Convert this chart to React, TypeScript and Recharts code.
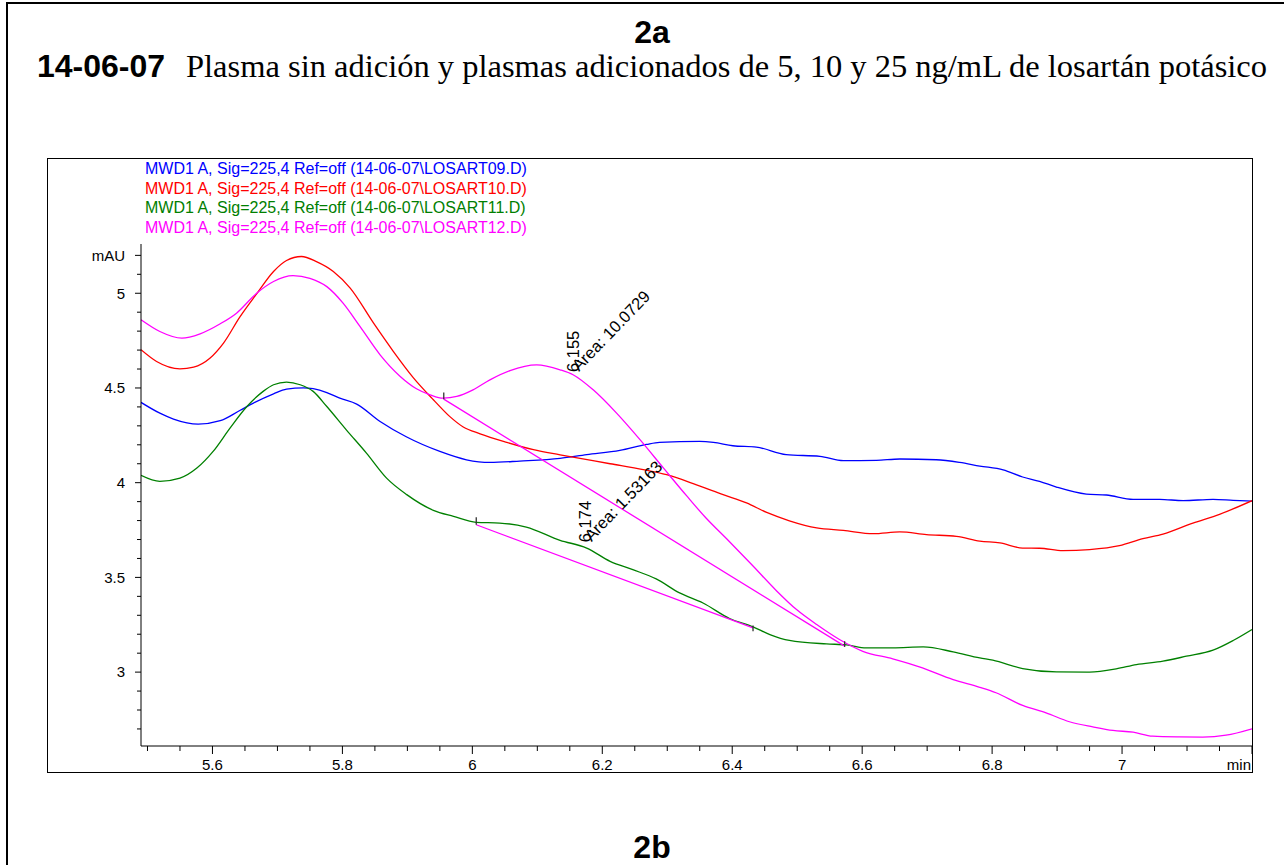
import React from 'react';
import { LineChart, Line, XAxis, YAxis, Legend, ReferenceLine, ReferenceDot } from 'recharts';

// retention time (min) vs absorbance (mAU)
const losart09 = [
  [5.49, 4.424], [5.519, 4.367], [5.54, 4.336], [5.578, 4.309], [5.612, 4.327], [5.642, 4.381],
  [5.663, 4.42], [5.694, 4.469], [5.714, 4.494], [5.74, 4.501], [5.755, 4.496], [5.776, 4.476],
  [5.796, 4.446], [5.822, 4.415], [5.858, 4.323], [5.899, 4.241], [5.95, 4.165], [5.991, 4.121],
  [6.027, 4.107], [6.073, 4.114], [6.135, 4.128], [6.176, 4.148], [6.227, 4.17], [6.268, 4.202],
  [6.288, 4.213], [6.35, 4.218], [6.371, 4.213], [6.401, 4.195], [6.437, 4.188], [6.483, 4.148],
  [6.535, 4.139], [6.571, 4.116], [6.622, 4.118], [6.658, 4.125], [6.714, 4.121], [6.75, 4.107],
  [6.781, 4.088], [6.817, 4.068], [6.847, 4.03], [6.873, 4.007], [6.899, 3.977], [6.945, 3.94],
  [6.976, 3.935], [7.017, 3.912], [7.058, 3.912], [7.094, 3.905], [7.14, 3.912], [7.171, 3.907],
  [7.2, 3.903],
];

const losart10 = [
  [5.49, 4.702], [5.514, 4.64], [5.55, 4.601], [5.571, 4.61], [5.596, 4.657], [5.617, 4.737],
  [5.642, 4.874], [5.668, 4.997], [5.694, 5.115], [5.714, 5.173], [5.737, 5.194], [5.76, 5.167],
  [5.786, 5.115], [5.812, 5.027], [5.848, 4.842], [5.878, 4.695], [5.909, 4.555], [5.94, 4.438],
  [5.965, 4.35], [5.986, 4.294], [6.012, 4.258], [6.053, 4.213], [6.094, 4.174], [6.135, 4.147],
  [6.212, 4.1], [6.263, 4.069], [6.299, 4.042], [6.345, 3.989], [6.386, 3.937], [6.422, 3.893],
  [6.453, 3.843], [6.488, 3.799], [6.53, 3.761], [6.571, 3.748], [6.617, 3.731], [6.658, 3.74],
  [6.699, 3.726], [6.745, 3.717], [6.781, 3.692], [6.812, 3.682], [6.847, 3.655], [6.873, 3.654],
  [6.909, 3.641], [6.95, 3.647], [6.996, 3.668], [7.032, 3.705], [7.063, 3.729], [7.109, 3.787],
  [7.15, 3.833], [7.2, 3.905],
];

const losart11 = [
  [5.49, 4.039], [5.519, 4.007], [5.55, 4.024], [5.576, 4.077], [5.601, 4.165], [5.627, 4.288],
  [5.653, 4.402], [5.678, 4.482], [5.694, 4.517], [5.714, 4.531], [5.735, 4.517], [5.755, 4.482],
  [5.776, 4.402], [5.806, 4.279], [5.837, 4.156], [5.868, 4.024], [5.899, 3.937], [5.94, 3.854],
  [5.971, 3.822], [6.006, 3.791], [6.042, 3.787], [6.083, 3.766], [6.135, 3.696], [6.176, 3.655],
  [6.212, 3.585], [6.247, 3.541], [6.283, 3.492], [6.319, 3.418], [6.355, 3.365], [6.396, 3.283],
  [6.432, 3.239], [6.458, 3.198], [6.488, 3.167], [6.545, 3.149], [6.576, 3.144], [6.606, 3.128],
  [6.647, 3.128], [6.694, 3.133], [6.74, 3.107], [6.781, 3.075], [6.801, 3.063], [6.847, 3.019],
  [6.899, 3.001], [6.95, 3.0], [6.991, 3.017], [7.022, 3.04], [7.063, 3.058], [7.099, 3.084],
  [7.14, 3.116], [7.171, 3.167], [7.2, 3.225],
];

const losart12 = [
  [5.49, 4.86], [5.519, 4.798], [5.553, 4.763], [5.581, 4.786], [5.612, 4.839], [5.637, 4.895],
  [5.668, 5.0], [5.694, 5.062], [5.724, 5.093], [5.75, 5.079], [5.776, 5.035], [5.801, 4.948],
  [5.827, 4.825], [5.858, 4.675], [5.889, 4.561], [5.914, 4.496], [5.935, 4.464], [5.955, 4.446],
  [5.976, 4.455], [6.001, 4.49], [6.027, 4.543], [6.058, 4.592], [6.099, 4.622], [6.135, 4.596],
  [6.155, 4.57], [6.186, 4.49], [6.222, 4.367], [6.258, 4.227], [6.294, 4.078], [6.33, 3.93],
  [6.36, 3.812], [6.391, 3.705], [6.432, 3.56], [6.468, 3.43], [6.499, 3.33], [6.53, 3.251],
  [6.565, 3.172], [6.601, 3.11], [6.647, 3.07], [6.688, 3.028], [6.74, 2.961], [6.781, 2.92],
  [6.806, 2.891], [6.847, 2.824], [6.883, 2.785], [6.919, 2.738], [6.955, 2.711], [6.986, 2.692],
  [7.017, 2.683], [7.047, 2.662], [7.088, 2.658], [7.124, 2.657], [7.16, 2.667], [7.2, 2.701],
];

// integration baselines drawn by the data system
const baselineBig = [[5.956, 4.441], [6.573, 3.137]];
const baselineSmall = [[6.006, 3.778], [6.432, 3.233]];
const baselineMarks = [
  [5.956, 4.441, 4.476],
  [6.006, 3.778, 3.817],
  [6.432, 3.216, 3.246],
  [6.573, 3.133, 3.163],
];

const peakTimes = [6.155, 6.174];
const peakLabelY = [4.584, 3.686];
const peakRt = ['6.155', '6.174'];
const peakAreas = ['Area: 10.0729', 'Area: 1.53163'];

const seriesNames = [
  'MWD1 A, Sig=225,4 Ref=off (14-06-07\\LOSART09.D)',
  'MWD1 A, Sig=225,4 Ref=off (14-06-07\\LOSART10.D)',
  'MWD1 A, Sig=225,4 Ref=off (14-06-07\\LOSART11.D)',
  'MWD1 A, Sig=225,4 Ref=off (14-06-07\\LOSART12.D)',
];
const seriesColors = ['#0000ff', '#ff0000', '#008000', '#ff00ff'];

const xTicks = [
  5.5, 5.55, 5.6, 5.65, 5.7, 5.75, 5.8, 5.85, 5.9, 5.95, 6, 6.05, 6.1, 6.15, 6.2, 6.25, 6.3, 6.35,
  6.4, 6.45, 6.5, 6.55, 6.6, 6.65, 6.7, 6.75, 6.8, 6.85, 6.9, 6.95, 7, 7.05, 7.1, 7.15, 7.2,
];
const xMajor = [5.6, 5.8, 6, 6.2, 6.4, 6.6, 6.8, 7, 7.2];
const xMajorText = ['5.6', '5.8', '6', '6.2', '6.4', '6.6', '6.8', '7', 'min'];

const yTicks = [
  2.7, 2.8, 2.9, 3, 3.1, 3.2, 3.3, 3.4, 3.5, 3.6, 3.7, 3.8, 3.9, 4, 4.1, 4.2, 4.3, 4.4, 4.5, 4.6,
  4.7, 4.8, 4.9, 5, 5.1, 5.2,
];
const yMajor = [3, 3.5, 4, 4.5, 5, 5.2];
const yMajorText = ['3', '3.5', '4', '4.5', '5', 'mAU'];

const toRows = (pts: number[][]) => pts.map(([x, y]) => ({ x, y }));
const series = [losart09, losart10, losart11, losart12].map(toRows);

const SANS = '"Liberation Sans", Arial, sans-serif';
const SERIF = '"Liberation Serif", "Times New Roman", serif';

const XTick = (props: any) => {
  const { x, y, payload } = props;
  const i = xMajor.findIndex((m) => Math.abs(m - payload.value) < 1e-6);
  const last = i === xMajor.length - 1;
  return (
    <g>
      <line x1={x} x2={x} y1={y} y2={y + (i >= 0 ? 8 : 5)} stroke="#000" />
      {i >= 0 && (
        <text x={last ? x - 1 : x} y={y + 24} textAnchor={last ? 'end' : 'middle'} fontSize={15} fontFamily={SANS} fill="#000">
          {xMajorText[i]}
        </text>
      )}
    </g>
  );
};

const YTick = (props: any) => {
  const { x, y, payload } = props;
  const i = yMajor.findIndex((m) => Math.abs(m - payload.value) < 1e-6);
  return (
    <g>
      <line x1={x - (i >= 0 ? 6 : 4)} x2={x} y1={y} y2={y} stroke="#000" />
      {i >= 0 && (
        <text x={x - 16} y={y} dy="0.35em" textAnchor="end" fontSize={15} fontFamily={SANS} fill="#000">
          {yMajorText[i]}
        </text>
      )}
    </g>
  );
};

const SeriesLegend = () => (
  <div style={{ fontFamily: SANS, fontSize: 16, lineHeight: '19.5px', whiteSpace: 'nowrap' }}>
    {seriesNames.map((n, i) => (
      <div key={n} style={{ color: seriesColors[i] }}>{n}</div>
    ))}
  </div>
);

const peakShape = (i: number) => (p: any) => {
  const x = p.cx + 6;
  const y = p.cy;
  return (
    <g fontFamily={SANS} fontSize={16.5} fill="#000">
      <text transform={`translate(${x},${y}) rotate(-90)`}>{peakRt[i]}</text>
      <text transform={`translate(${x},${y}) rotate(-46)`}>{peakAreas[i]}</text>
    </g>
  );
};

export default function App() {
  return (
    <div style={{ position: 'absolute', left: 0, top: 0, width: 1284, height: 865, background: '#fff', overflow: 'hidden' }}>
      <svg width={1284} height={865} style={{ position: 'absolute', left: 0, top: 0 }}>
        <line x1={7} y1={3} x2={7} y2={865} stroke="#000" strokeWidth={2} />
        <line x1={6} y1={3} x2={1284} y2={3} stroke="#000" strokeWidth={2} />
        <text x={652} y={43} textAnchor="middle" fontFamily={SANS} fontWeight="bold" fontSize={32}>2a</text>
        <text x={37} y={77} fontFamily={SANS} fontWeight="bold" fontSize={32}>14-06-07</text>
        <text x={186} y={77} fontFamily={SERIF} fontSize={32.5}>
          Plasma sin adición y plasmas adicionados de 5, 10 y 25 ng/mL de losartán potásico
        </text>
        <text x={652} y={858} textAnchor="middle" fontFamily={SANS} fontWeight="bold" fontSize={32}>2b</text>
      </svg>
      <div style={{ position: 'absolute', left: 47, top: 158, width: 1204, height: 613, border: '1px solid #000' }}>
        <LineChart width={1204} height={613} margin={{ top: 85, right: 0, bottom: 0, left: 0 }}>
          <XAxis
            dataKey="x"
            type="number"
            domain={[5.49, 7.2]}
            allowDataOverflow
            ticks={xTicks}
            interval={0}
            tick={<XTick />}
            tickLine={false}
            tickSize={0}
            tickMargin={0}
            height={26}
            axisLine={{ stroke: '#000' }}
          />
          <YAxis
            type="number"
            domain={[2.61, 5.26]}
            allowDataOverflow
            ticks={yTicks}
            interval={0}
            tick={<YTick />}
            tickLine={false}
            tickSize={0}
            tickMargin={0}
            width={93}
            axisLine={{ stroke: '#000' }}
          />
          <Legend
            verticalAlign="middle"
            align="center"
            layout="horizontal"
            wrapperStyle={{ left: 97, top: 0, width: 'auto' }}
            content={() => <SeriesLegend />}
          />
          {series.map((d, i) => (
            <Line
              key={seriesNames[i]}
              data={d}
              dataKey="y"
              name={seriesNames[i]}
              type="monotone"
              stroke={seriesColors[i]}
              strokeWidth={1.3}
              dot={false}
              isAnimationActive={false}
            />
          ))}
          <Line data={toRows(baselineBig)} dataKey="y" type="linear" stroke="#ff00ff" strokeWidth={1.3} dot={false} legendType="none" isAnimationActive={false} />
          <Line data={toRows(baselineSmall)} dataKey="y" type="linear" stroke="#ff00ff" strokeWidth={1.3} dot={false} legendType="none" isAnimationActive={false} />
          {baselineMarks.map(([x, y1, y2]) => (
            <ReferenceLine key={x} segment={[{ x, y: y1 }, { x, y: y2 }]} stroke="#333" strokeWidth={1.3} />
          ))}
          {peakTimes.map((t, i) => (
            <ReferenceDot key={t} x={t} y={peakLabelY[i]} r={0} shape={peakShape(i)} />
          ))}
        </LineChart>
      </div>
    </div>
  );
}
